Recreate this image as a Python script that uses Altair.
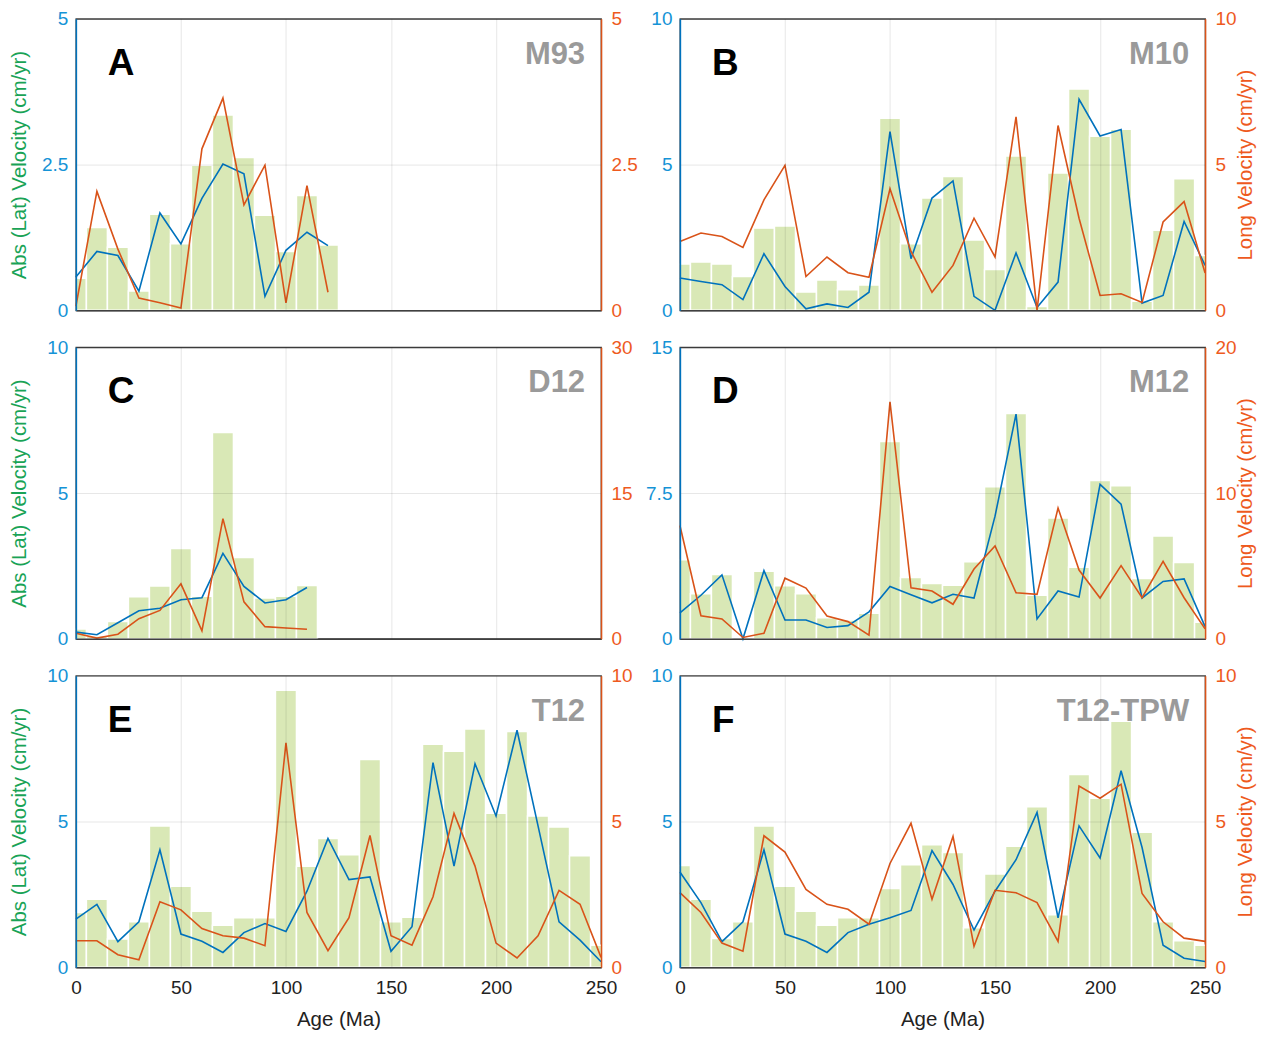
import altair as alt
import pandas as pd

AGES = list(range(0, 260, 10))
LETTERS = ["A", "B", "C", "D", "E", "F"]
MODELS = ["M93", "M10", "D12", "M12", "T12", "T12-TPW"]
LEFT_MAX = [5, 10, 10, 15, 10, 10]
RIGHT_MAX = [5, 10, 30, 20, 10, 10]

# bars = abs(lat) velocity (left axis); lat = blue line (left axis); lon = orange line (right axis)
A_BAR = [0.55, 1.42, 1.08, 0.33, 1.65, 1.14, 2.49, 3.35, 2.62, 1.63, 1.01, 1.97, 1.12]
A_LAT = [0.57, 1.01, 0.94, 0.33, 1.67, 1.14, 1.92, 2.51, 2.34, 0.24, 1.03, 1.34, 1.11]
A_LON = [0.07, 2.04, 1.05, 0.21, 0.13, 0.04, 2.77, 3.64, 1.81, 2.49, 0.13, 2.14, 0.31]

B_BAR = [1.59, 1.66, 1.59, 1.16, 2.82, 2.89, 0.63, 1.04, 0.71, 0.87, 6.59, 2.28, 3.85,
         4.59, 2.41, 1.40, 5.29, 0.13, 4.71, 7.59, 5.97, 6.21, 0.31, 2.75, 4.51, 1.88]
B_LAT = [1.11, 0.99, 0.88, 0.37, 1.94, 0.82, 0.05, 0.22, 0.10, 0.62, 6.13, 1.77, 3.85,
         4.44, 0.48, 0.00, 1.97, 0.10, 0.97, 7.24, 5.98, 6.20, 0.25, 0.51, 3.05, 1.54]
B_LON = [2.36, 2.65, 2.53, 2.16, 3.79, 4.97, 1.16, 1.83, 1.29, 1.13, 4.17, 2.02, 0.62,
         1.54, 3.16, 1.83, 6.64, 0.00, 6.34, 3.16, 0.51, 0.57, 0.27, 3.03, 3.73, 1.28]

C_BAR = [0.34, 0.10, 0.59, 1.44, 1.81, 3.10, 1.46, 7.08, 2.79, 1.40, 1.46, 1.83]
C_LAT = [0.23, 0.14, 0.55, 0.96, 1.05, 1.34, 1.41, 2.93, 1.80, 1.23, 1.34, 1.76]
C_LON = [0.58, 0.07, 0.47, 2.07, 2.92, 5.66, 0.81, 12.37, 3.80, 1.25, 1.12, 0.98]

D_BAR = [4.07, 2.32, 3.31, 0.00, 3.47, 2.73, 2.32, 1.08, 0.97, 1.31, 10.15, 3.15, 2.85,
         2.75, 3.97, 7.83, 11.59, 2.24, 6.22, 3.68, 8.14, 7.88, 3.10, 5.29, 3.93, 0.85]
D_LAT = [1.34, 2.24, 3.29, 0.00, 3.51, 0.97, 0.97, 0.58, 0.68, 1.39, 2.69, 2.27, 1.85,
         2.29, 2.10, 6.31, 11.56, 1.02, 2.46, 2.15, 7.95, 6.93, 2.10, 2.95, 3.08, 0.63]
D_LON = [7.77, 1.58, 1.36, 0.09, 0.38, 4.16, 3.48, 1.56, 1.18, 0.25, 16.25, 3.50, 3.28,
         2.37, 4.79, 6.37, 3.16, 3.05, 8.97, 4.72, 2.80, 5.02, 2.82, 5.31, 2.82, 0.68]

E_BAR = [1.88, 2.33, 0.97, 1.56, 4.85, 2.78, 1.92, 1.44, 1.70, 1.70, 9.50, 3.47, 4.42,
         3.86, 7.13, 1.56, 1.72, 7.65, 7.41, 8.17, 5.28, 8.09, 5.19, 4.81, 3.83, 0.76]
E_LAT = [1.65, 2.16, 0.88, 1.56, 4.03, 1.14, 0.89, 0.51, 1.19, 1.50, 1.23, 2.61, 4.42,
         3.01, 3.10, 0.55, 1.39, 7.02, 3.47, 6.98, 5.19, 8.13, 4.85, 1.56, 0.93, 0.19]
E_LON = [0.91, 0.91, 0.43, 0.26, 2.25, 1.97, 1.33, 1.08, 1.00, 0.74, 7.70, 1.88, 0.57,
         1.70, 4.52, 1.08, 0.76, 2.42, 5.28, 3.47, 0.83, 0.32, 1.08, 2.64, 2.16, 0.34]

F_BAR = [3.49, 2.33, 0.99, 1.56, 4.85, 2.78, 1.92, 1.44, 1.70, 1.70, 2.70, 3.52, 4.20,
         3.94, 1.36, 3.20, 4.15, 5.51, 1.80, 6.61, 5.80, 8.44, 4.63, 1.56, 0.91, 0.76]
F_LAT = [3.27, 2.22, 0.88, 1.56, 4.03, 1.14, 0.89, 0.51, 1.19, 1.48, 1.70, 1.95, 4.00,
         2.84, 1.28, 2.61, 3.69, 5.31, 1.70, 4.85, 3.75, 6.74, 4.11, 0.76, 0.31, 0.20]
F_LON = [2.56, 1.88, 0.83, 0.55, 4.51, 3.95, 2.67, 2.16, 1.99, 1.48, 3.56, 4.94, 2.33,
         4.49, 0.72, 2.64, 2.56, 2.22, 0.89, 6.22, 5.80, 6.28, 2.53, 1.56, 1.00, 0.89]

BARS = [A_BAR, B_BAR, C_BAR, D_BAR, E_BAR, F_BAR]
LATS = [A_LAT, B_LAT, C_LAT, D_LAT, E_LAT, F_LAT]
LONS = [A_LON, B_LON, C_LON, D_LON, E_LON, F_LON]

BLUE = "#0072BD"
BLUE_TXT = "#1593D6"
ORANGE = "#D95319"
ORANGE_TXT = "#EE5A1E"
GREEN_TXT = "#19A356"
BAR_COLOR = "#D9E8B6"
FRAME = "#404040"
FONT = "Liberation Sans"
W, H = 526, 292
XTICKS = [0, 50, 100, 150, 200, 250]


def panel(i):
    col, row = i % 2, i // 2
    bottom = row == 2
    lmax, rmax = LEFT_MAX[i], RIGHT_MAX[i]
    xscale = alt.Scale(domain=[0, 250], nice=False, zero=False)
    lscale = alt.Scale(domain=[0, lmax], nice=False, zero=True)
    rscale = alt.Scale(domain=[0, rmax], nice=False, zero=True)

    xaxis = alt.Axis(values=XTICKS, grid=True, ticks=False, labels=bottom,
                     labelFlush=False, labelPadding=11, labelColor="#222222",
                     domainColor=FRAME, title="Age (Ma)" if bottom else None,
                     titlePadding=12, titleColor="#222222", zindex=1)
    laxis = alt.Axis(values=[0, lmax / 2, lmax], format=".1~f", grid=True, ticks=False,
                     labelColor=BLUE_TXT, domainColor=BLUE, labelPadding=8,
                     title="Abs (Lat) Velocity (cm/yr)" if col == 0 else None,
                     titleColor=GREEN_TXT, titleX=-56, titleBaseline="middle",
                     orient="left", zindex=1)
    raxis = alt.Axis(values=[0, rmax / 2, rmax], format=".1~f", grid=False, ticks=False,
                     labelColor=ORANGE_TXT, domainColor=ORANGE, labelPadding=10,
                     title="Long Velocity (cm/yr)" if col == 1 else None,
                     titleColor=ORANGE_TXT, titleAngle=270, titleX=40,
                     titleBaseline="middle", orient="right", zindex=1)

    bar_vals = BARS[i]
    dfb = pd.DataFrame({
        "x0": [a - 5 for a in AGES[:len(bar_vals)]],
        "x1": [a + 5 for a in AGES[:len(bar_vals)]],
        "v": bar_vals,
    })
    dfl = pd.DataFrame({"age": AGES[:len(LATS[i])], "v": LATS[i]})
    dfr = pd.DataFrame({"age": AGES[:len(LONS[i])], "v": LONS[i]})
    one = pd.DataFrame({"k": [0]})

    bars = alt.Chart(dfb).mark_bar(color=BAR_COLOR, stroke="white", strokeWidth=1.5,
                                   clip=True).encode(
        x=alt.X("x0:Q", scale=xscale, axis=xaxis),
        x2="x1:Q",
        y=alt.Y("v:Q", scale=lscale, axis=laxis),
        y2=alt.datum(0),
    )
    blue = alt.Chart(dfl).mark_line(color=BLUE, strokeWidth=1.6).encode(
        x=alt.X("age:Q", scale=xscale, axis=xaxis),
        y=alt.Y("v:Q", scale=lscale, axis=laxis),
    )
    letter = alt.Chart(one).mark_text(text=LETTERS[i], font=FONT, fontSize=37,
                                      fontWeight="bold", color="black", align="left",
                                      baseline="alphabetic").encode(
        x=alt.value(32), y=alt.value(56))
    model = alt.Chart(one).mark_text(text=MODELS[i], font=FONT, fontSize=31,
                                     fontWeight="bold", color="#9A9A9A", align="right",
                                     baseline="alphabetic").encode(
        x=alt.value(W - 16), y=alt.value(45))
    left = alt.layer(bars, blue, letter, model)

    orange = alt.Chart(dfr).mark_line(color=ORANGE, strokeWidth=1.6).encode(
        x=alt.X("age:Q", scale=xscale, axis=xaxis),
        y=alt.Y("v:Q", scale=rscale, axis=raxis),
    )
    return alt.layer(left, orange).resolve_scale(y="independent").properties(
        width=W, height=H)


chart = alt.concat(*[panel(i) for i in range(6)], columns=2,
                   spacing={"row": 37, "column": 79}).properties(
    bounds="flush",
    padding={"left": 1, "top": 0, "right": 5, "bottom": 5},
).configure_view(
    stroke=FRAME, strokeWidth=1.3
).configure_axis(
    labelFont=FONT, titleFont=FONT, labelFontSize=19, titleFontSize=20.5,
    titleFontWeight="normal", domainWidth=1.5, gridColor="#000000", gridOpacity=0.1,
    gridWidth=1,
)

chart.save("out.html", embed_options={"renderer": "svg", "actions": False})
